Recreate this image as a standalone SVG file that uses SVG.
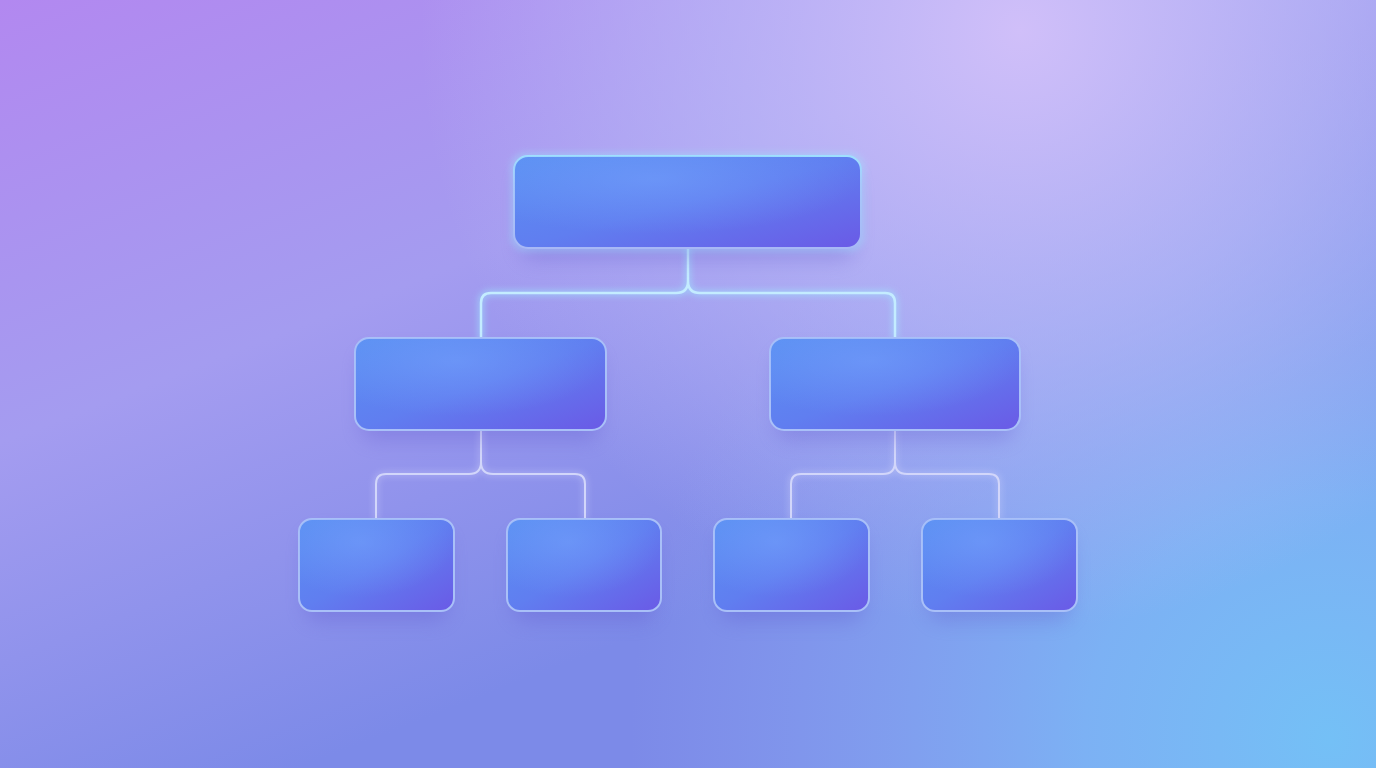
<svg xmlns="http://www.w3.org/2000/svg" width="1376" height="768" viewBox="0 0 1376 768">
  <defs>
    <linearGradient id="bg" x1="0" y1="0" x2="300" y2="768" gradientUnits="userSpaceOnUse">
      <stop offset="0" stop-color="#b288f0"/>
      <stop offset="0.5" stop-color="#a49cf0"/>
      <stop offset="1" stop-color="#7c8ae8"/>
    </linearGradient>
    <radialGradient id="blue" cx="1330" cy="740" r="700" gradientUnits="userSpaceOnUse">
      <stop offset="0" stop-color="#74c0f6" stop-opacity="1"/>
      <stop offset="0.35" stop-color="#7cb8f6" stop-opacity="0.85"/>
      <stop offset="1" stop-color="#90aaf4" stop-opacity="0"/>
    </radialGradient>
    <radialGradient id="hl" cx="1020" cy="30" r="600" gradientUnits="userSpaceOnUse">
      <stop offset="0" stop-color="#d0bff9" stop-opacity="1"/>
      <stop offset="0.5" stop-color="#c0bcf8" stop-opacity="0.6"/>
      <stop offset="1" stop-color="#c0bcf8" stop-opacity="0"/>
    </radialGradient>
    <linearGradient id="box" x1="0" y1="0" x2="1" y2="1">
      <stop offset="0" stop-color="#5a90f2"/>
      <stop offset="0.5" stop-color="#607ef0"/>
      <stop offset="1" stop-color="#6a5ae6"/>
    </linearGradient>
    <radialGradient id="sheen" cx="0.4" cy="0.25" r="0.6">
      <stop offset="0" stop-color="#7aa8ff" stop-opacity="0.45"/>
      <stop offset="1" stop-color="#7aa8ff" stop-opacity="0"/>
    </radialGradient>
    <linearGradient id="topedge" x1="0" y1="0" x2="0" y2="1">
      <stop offset="0" stop-color="#9fe0ff"/>
      <stop offset="0.3" stop-color="#a8c8fa"/>
      <stop offset="1" stop-color="#a8b8f6"/>
    </linearGradient>
    <filter id="shadow" x="-20%" y="-30%" width="140%" height="170%">
      <feGaussianBlur stdDeviation="10"/>
    </filter>
    <filter id="glow" x="-20%" y="-50%" width="140%" height="200%">
      <feGaussianBlur stdDeviation="3"/>
    </filter>
  </defs>
  <style>
    .node rect.shadow { fill: #5a50c8; opacity: 0.28; filter: url(#shadow); }
    .node rect.body { fill: url(#box); stroke: #a9c0f8; stroke-width: 2; }
    .node rect.sheen { fill: url(#sheen); }
    .conn path { fill: none; stroke-linecap: round; }
    .glowline { stroke: #9fe6ff; stroke-width: 6; opacity: 0.55; filter: url(#glow); }
    .line1 { stroke: #c4ecff; stroke-width: 2.5; }
    .glowline2 { stroke: #d6d8fc; stroke-width: 5; opacity: 0.35; filter: url(#glow); }
    .line2 { stroke: #d2d6fa; stroke-width: 2; }
  </style>
  <rect width="1376" height="768" fill="url(#bg)"/>
  <rect width="1376" height="768" fill="url(#blue)"/>
  <rect width="1376" height="768" fill="url(#hl)"/>

  <g id="connectors" class="conn">
    <path class="glowline" d="M688 248 V281 Q688 293 676 293 H491 Q481 293 481 303 V338 M688 281 Q688 293 700 293 H885 Q895 293 895 303 V338"/>
    <path class="line1" d="M688 248 V281 Q688 293 676 293 H491 Q481 293 481 303 V338 M688 281 Q688 293 700 293 H885 Q895 293 895 303 V338"/>
    <path class="glowline2" d="M481 430 V462 Q481 474 469 474 H386 Q376 474 376 484 V519 M481 462 Q481 474 493 474 H575 Q585 474 585 484 V519"/>
    <path class="line2" d="M481 430 V462 Q481 474 469 474 H386 Q376 474 376 484 V519 M481 462 Q481 474 493 474 H575 Q585 474 585 484 V519"/>
    <path class="glowline2" d="M895 430 V462 Q895 474 883 474 H801 Q791 474 791 484 V519 M895 462 Q895 474 907 474 H989 Q999 474 999 484 V519"/>
    <path class="line2" d="M895 430 V462 Q895 474 883 474 H801 Q791 474 791 484 V519 M895 462 Q895 474 907 474 H989 Q999 474 999 484 V519"/>
  </g>

  <g id="root" class="node">
    <rect class="shadow" x="520" y="170" width="335" height="90" rx="14"/>
    <rect x="510" y="152" width="355" height="100" rx="16" fill="#9fe6ff" opacity="0.35" filter="url(#glow)"/>
    <rect class="body" x="514" y="156" width="347" height="92" rx="14" style="stroke:url(#topedge)"/>
    <rect class="sheen" x="514" y="156" width="347" height="92" rx="14"/>
  </g>

  <g id="mid-left" class="node">
    <rect class="shadow" x="361" y="352" width="239" height="88" rx="14"/>
    <rect class="body" x="355" y="338" width="251" height="92" rx="14"/>
    <rect class="sheen" x="355" y="338" width="251" height="92" rx="14"/>
  </g>

  <g id="mid-right" class="node">
    <rect class="shadow" x="776" y="352" width="238" height="88" rx="14"/>
    <rect class="body" x="770" y="338" width="250" height="92" rx="14"/>
    <rect class="sheen" x="770" y="338" width="250" height="92" rx="14"/>
  </g>

  <g id="leaf-1" class="node">
    <rect class="shadow" x="305" y="533" width="143" height="88" rx="14"/>
    <rect class="body" x="299" y="519" width="155" height="92" rx="13"/>
    <rect class="sheen" x="299" y="519" width="155" height="92" rx="13"/>
  </g>

  <g id="leaf-2" class="node">
    <rect class="shadow" x="513" y="533" width="142" height="88" rx="14"/>
    <rect class="body" x="507" y="519" width="154" height="92" rx="13"/>
    <rect class="sheen" x="507" y="519" width="154" height="92" rx="13"/>
  </g>

  <g id="leaf-3" class="node">
    <rect class="shadow" x="720" y="533" width="143" height="88" rx="14"/>
    <rect class="body" x="714" y="519" width="155" height="92" rx="13"/>
    <rect class="sheen" x="714" y="519" width="155" height="92" rx="13"/>
  </g>

  <g id="leaf-4" class="node">
    <rect class="shadow" x="928" y="533" width="143" height="88" rx="14"/>
    <rect class="body" x="922" y="519" width="155" height="92" rx="13"/>
    <rect class="sheen" x="922" y="519" width="155" height="92" rx="13"/>
  </g>
</svg>
